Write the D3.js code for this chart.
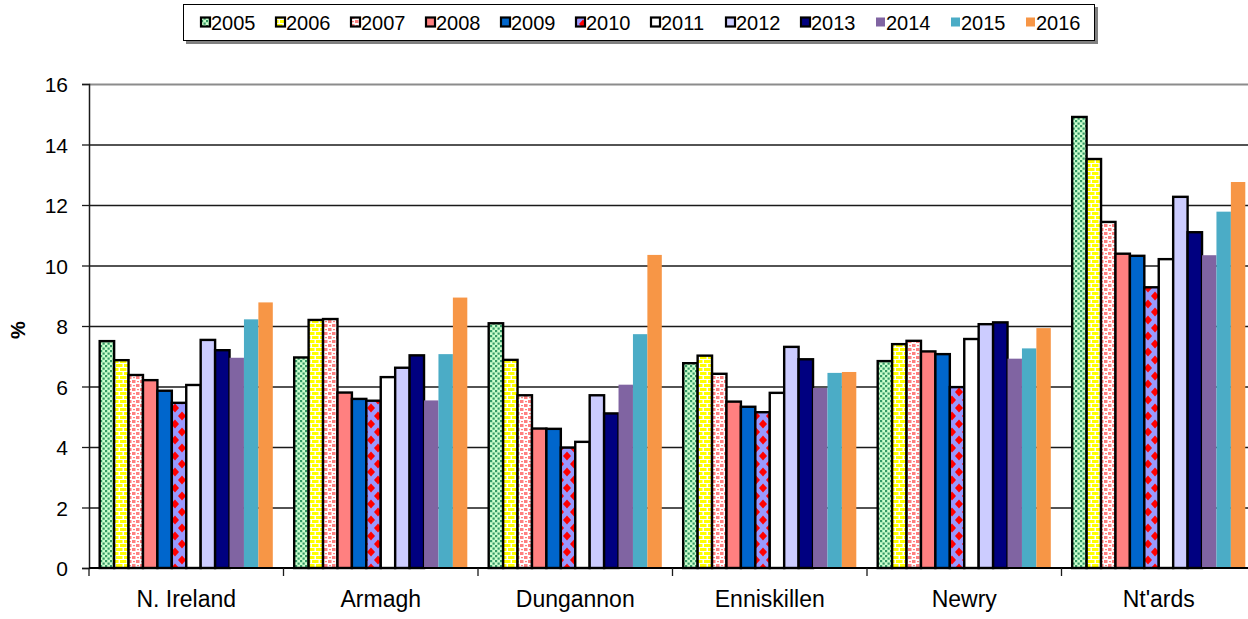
<!DOCTYPE html>
<html>
<head>
  <title>% by town, 2005-2016</title>
  <script src="https://d3js.org/d3.v7.min.js"></script>
  <style>
    body { margin: 0; background: white; }
    svg { display: block; font-family: "Liberation Sans", Arial, sans-serif; }
    .y-axis text { font-size: 21px; }
    .x-axis text { font-size: 23px; }
    .legend text { font-size: 20px; }
  </style>
</head>
<body>
<div id="chart"></div>
<script>
  // categories along the x axis
  const categories = ["N. Ireland", "Armagh", "Dungannon", "Enniskillen", "Newry", "Nt'ards"];
  const years = ["2005", "2006", "2007", "2008", "2009", "2010", "2011", "2012", "2013", "2014", "2015", "2016"];
  const yTicks = [0, 2, 4, 6, 8, 10, 12, 14, 16];

  // values (%), one array per year, same order as categories
  const v2005 = [7.50, 6.96, 8.09, 6.77, 6.84, 14.91];
  const v2006 = [6.87, 8.20, 6.88, 7.02, 7.40, 13.52];
  const v2007 = [6.38, 8.23, 5.71, 6.42, 7.51, 11.44];
  const v2008 = [6.21, 5.80, 4.61, 5.50, 7.16, 10.39];
  const v2009 = [5.86, 5.59, 4.60, 5.33, 7.07, 10.32];
  const v2010 = [5.46, 5.53, 3.98, 5.15, 5.98, 9.28];
  const v2011 = [6.05, 6.31, 4.17, 5.79, 7.57, 10.21];
  const v2012 = [7.54, 6.62, 5.71, 7.31, 8.06, 12.27];
  const v2013 = [7.20, 7.03, 5.11, 6.90, 8.12, 11.10];
  const v2014 = [6.95, 5.54, 6.06, 5.95, 6.92, 10.34];
  const v2015 = [8.22, 7.07, 7.73, 6.45, 7.26, 11.78];
  const v2016 = [8.78, 8.94, 10.35, 6.48, 7.93, 12.76];

  const seriesValues = [v2005, v2006, v2007, v2008, v2009, v2010, v2011, v2012, v2013, v2014, v2015, v2016];

  // fill for each year (patterns are defined below), and whether it has a black outline
  const yearFills = ["url(#p2005)", "url(#p2006)", "url(#p2007)", "#ff8080", "#0066cc", "url(#p2010)",
                     "#ffffff", "#ccccff", "#000080", "#8064a2", "#4bacc6", "#f79646"];
  const yearOutlined = [true, true, true, true, true, true, true, true, true, false, false, false];

  const W = 1248, H = 619;
  const plot = {left: 89, right: 1256, top: 84, bottom: 568};

  const svg = d3.select("#chart").append("svg")
    .attr("width", W)
    .attr("height", H);

  // ---- patterns ----
  const defs = svg.append("defs");

  // 2005 : green dots on pale green
  const p5 = defs.append("pattern").attr("id", "p2005")
    .attr("patternUnits", "userSpaceOnUse").attr("width", 5).attr("height", 5);
  p5.append("rect").attr("width", 5).attr("height", 5).attr("fill", "#ccffcc");
  p5.append("rect").attr("x", 0).attr("y", 0).attr("width", 2.2).attr("height", 2.2).attr("fill", "#339966");
  p5.append("rect").attr("x", 2.5).attr("y", 2.5).attr("width", 2.2).attr("height", 2.2).attr("fill", "#339966");

  // 2006 : yellow bricks on white
  const p6 = defs.append("pattern").attr("id", "p2006")
    .attr("patternUnits", "userSpaceOnUse").attr("width", 8).attr("height", 8);
  p6.append("rect").attr("width", 8).attr("height", 8).attr("fill", "#ffffff");
  p6.append("rect").attr("x", 0).attr("y", 0).attr("width", 6.5).attr("height", 3).attr("fill", "#ffff00");
  p6.append("rect").attr("x", 0).attr("y", 4).attr("width", 2.5).attr("height", 3).attr("fill", "#ffff00");
  p6.append("rect").attr("x", 4).attr("y", 4).attr("width", 4).attr("height", 3).attr("fill", "#ffff00");

  // 2007 : pink checks on white
  const p7 = defs.append("pattern").attr("id", "p2007")
    .attr("patternUnits", "userSpaceOnUse").attr("width", 8).attr("height", 8);
  p7.append("rect").attr("width", 8).attr("height", 8).attr("fill", "#ffffff");
  p7.append("rect").attr("x", 0).attr("y", 0).attr("width", 3.5).attr("height", 3).attr("fill", "#ff8080");
  p7.append("rect").attr("x", 4).attr("y", 4).attr("width", 3.5).attr("height", 3).attr("fill", "#ff8080");
  p7.append("rect").attr("x", 5).attr("y", 1).attr("width", 2).attr("height", 1.2).attr("fill", "#ff8080");
  p7.append("rect").attr("x", 1).attr("y", 5).attr("width", 2).attr("height", 1.2).attr("fill", "#ff8080");

  // 2010 : red diamonds on lavender
  const p10 = defs.append("pattern").attr("id", "p2010")
    .attr("patternUnits", "userSpaceOnUse").attr("width", 14).attr("height", 16);
  p10.append("rect").attr("width", 14).attr("height", 16).attr("fill", "#9999ff");
  [[0, 0], [14, 0], [0, 16], [14, 16], [7, 8]].forEach(c => {
    p10.append("polygon")
      .attr("points", `${c[0]},${c[1] - 4.5} ${c[0] + 4},${c[1]} ${c[0]},${c[1] + 4.5} ${c[0] - 4},${c[1]}`)
      .attr("fill", "#ff0000");
  });

  // ---- scales ----
  const x = d3.scaleBand()
    .domain(categories)
    .range([plot.left, plot.right])
    .paddingInner(0.11)
    .paddingOuter(0.055);

  const xYear = d3.scaleBand()
    .domain(years)
    .range([0, x.bandwidth()]);

  const y = d3.scaleLinear()
    .domain([0, 16])
    .range([plot.bottom, plot.top]);

  // ---- grid lines ----
  svg.append("g")
    .attr("class", "grid")
    .attr("transform", `translate(${plot.left},0)`)
    .call(d3.axisLeft(y).tickValues(yTicks.slice(1)).tickSize(-(plot.right - plot.left)).tickFormat(""))
    .call(g => g.select(".domain").remove())
    .call(g => g.selectAll(".tick line")
      .attr("stroke", d => d === 16 ? "#8c8c8c" : "#1a1a1a")
      .attr("stroke-width", d => d === 16 ? 2 : 1.3));

  // ---- bars ----
  const barData = [];
  years.forEach((yr, i) => {
    categories.forEach((cat, j) => {
      barData.push({year: yr, idx: i, cat: cat, value: seriesValues[i][j]});
    });
  });

  svg.append("g").selectAll("rect")
    .data(barData)
    .join("rect")
    .attr("x", d => x(d.cat) + xYear(d.year))
    .attr("y", d => y(d.value))
    .attr("width", xYear.bandwidth())
    .attr("height", d => y(0) - y(d.value))
    .attr("fill", d => yearFills[d.idx])
    .attr("stroke", d => yearOutlined[d.idx] ? "#000" : "none")
    .attr("stroke-width", 2.4);

  // ---- y axis ----
  svg.append("g")
    .attr("class", "y-axis")
    .attr("transform", `translate(${plot.left},0)`)
    .call(d3.axisLeft(y).tickValues(yTicks).tickSize(7).tickPadding(14))
    .call(g => g.select(".domain").attr("stroke", "#1a1a1a").attr("stroke-width", 1.5))
    .call(g => g.selectAll(".tick line").attr("stroke", "#1a1a1a").attr("stroke-width", 1.3))
    .call(g => g.selectAll("text").attr("fill", "#000").attr("dy", "0.36em"));

  // ---- x axis ----
  const xAxis = svg.append("g").attr("class", "x-axis");
  xAxis.append("line")
    .attr("x1", plot.left).attr("x2", plot.right)
    .attr("y1", y(0)).attr("y2", y(0))
    .attr("stroke", "#000").attr("stroke-width", 2);

  const gap = x.step() * x.paddingInner() / 2;
  xAxis.selectAll(".bound")
    .data(categories)
    .join("line")
    .attr("class", "bound")
    .attr("x1", d => x(d) - gap).attr("x2", d => x(d) - gap)
    .attr("y1", y(0)).attr("y2", y(0) + 8)
    .attr("stroke", "#1a1a1a").attr("stroke-width", 1.3);

  xAxis.selectAll(".cat")
    .data(categories)
    .join("text")
    .attr("class", "cat")
    .attr("x", d => x(d) + x.bandwidth() / 2)
    .attr("y", 607)
    .attr("text-anchor", "middle")
    .attr("fill", "#000")
    .text(d => d);

  // y axis title
  svg.append("text")
    .attr("transform", "translate(25,330) rotate(-90)")
    .attr("text-anchor", "middle")
    .style("font-size", "20px")
    .style("font-weight", "bold")
    .text("%");

  // ---- legend ----
  const legend = svg.append("g").attr("class", "legend");
  legend.append("rect")
    .attr("x", 186).attr("y", 7).attr("width", 912).attr("height", 37)
    .attr("fill", "#808080");
  legend.append("rect")
    .attr("x", 183.5).attr("y", 4.5).attr("width", 911).attr("height", 36)
    .attr("fill", "#fff").attr("stroke", "#000").attr("stroke-width", 1);

  const lx = d3.scaleLinear().domain([0, 1]).range([201, 276]);

  const items = legend.selectAll(".item")
    .data(years)
    .join("g")
    .attr("class", "item")
    .attr("transform", (d, i) => `translate(${lx(i)},0)`);

  items.append("rect")
    .attr("x", 0).attr("y", 17.5)
    .attr("width", 9).attr("height", 9)
    .attr("fill", (d, i) => yearFills[i])
    .attr("stroke", (d, i) => yearOutlined[i] ? "#000" : "none")
    .attr("stroke-width", 2.2);

  items.append("text")
    .attr("x", 10).attr("y", 29.5)
    .attr("fill", "#000")
    .text(d => d);
</script>
</body>
</html>
